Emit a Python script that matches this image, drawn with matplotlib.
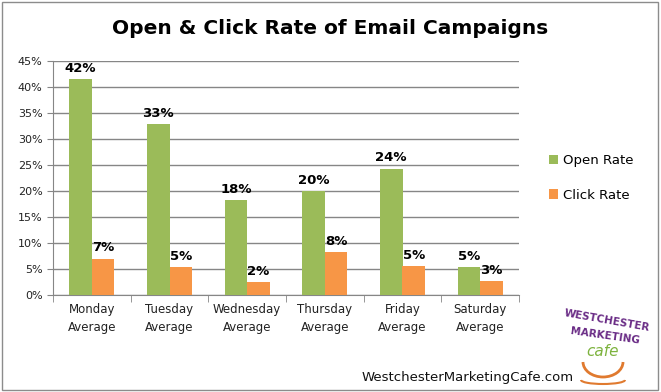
import numpy as np
import matplotlib.pyplot as plt
from matplotlib.patches import Rectangle, Arc

days = ['Monday\nAverage', 'Tuesday\nAverage', 'Wednesday\nAverage',
        'Thursday\nAverage', 'Friday\nAverage', 'Saturday\nAverage']
open_rate = [41.6, 32.8, 18.2, 20.0, 24.3, 5.3]
click_rate = [7.0, 5.3, 2.5, 8.2, 5.5, 2.6]
open_labels = ['42%', '33%', '18%', '20%', '24%', '5%']
click_labels = ['7%', '5%', '2%', '8%', '5%', '3%']

green = '#9BBB59'
orange = '#F79646'
grid_col = '#868686'

fig = plt.figure(figsize=(6.61, 3.92), dpi=100)
ax = fig.add_axes([53/661, 1 - 295/392, (519 - 53)/661, (295 - 61)/392])

x = np.arange(len(days))
w = 0.29
b1 = ax.bar(x - w/2, open_rate, w, color=green, label='Open Rate', zorder=3)
b2 = ax.bar(x + w/2, click_rate, w, color=orange, label='Click Rate', zorder=3)

for bars, labels in ((b1, open_labels), (b2, click_labels)):
    for rect, lab in zip(bars, labels):
        ax.annotate(lab, (rect.get_x() + rect.get_width()/2, rect.get_height()),
                    xytext=(0, 3), textcoords='offset points', ha='center',
                    va='bottom', fontsize=9.5, fontweight='bold', zorder=4)

ax.set_xlim(-0.5, len(days) - 0.5)
ax.set_ylim(0, 45)
ax.set_yticks(np.arange(0, 46, 5))
ax.set_yticklabels([f'{v}%' for v in range(0, 46, 5)], fontsize=8, color='#222222')
ax.yaxis.grid(True, color=grid_col, linewidth=1, zorder=0)

# category labels, with tick marks between groups
ax.set_xticks(x)
ax.set_xticklabels(days, fontsize=8.5, color='#222222', linespacing=1.5)
ax.tick_params(axis='x', length=0, pad=6)
ax.set_xticks(np.arange(-0.5, len(days)), minor=True)
ax.tick_params(axis='x', which='minor', length=5, color=grid_col, direction='out')
ax.tick_params(axis='y', length=4, color=grid_col, direction='out')

for s in ['top', 'right']:
    ax.spines[s].set_visible(False)
ax.spines['left'].set_color(grid_col)
ax.spines['bottom'].set_color(grid_col)

fig.legend(handles=[b1, b2], labels=['Open Rate', 'Click Rate'],
           loc='center left', bbox_to_anchor=(537/661, 1 - 178/392),
           frameon=False, fontsize=9.5, handlelength=0.7, handleheight=0.7,
           labelspacing=1.6, handletextpad=0.4)

fig.text(330/661, 1 - 28/392, 'Open & Click Rate of Email Campaigns',
         ha='center', va='center', fontsize=14.5, fontweight='bold')

fig.text(468/661, 1 - 377/392, 'WestchesterMarketingCafe.com',
         ha='center', va='center', fontsize=9.5, color='#111111')

# logo, roughly
purple = '#6A2C86'
fig.text(607/661, 1 - 321/392, 'WESTCHESTER', ha='center', va='center',
         fontsize=7.5, fontweight='bold', color=purple, rotation=-10)
fig.text(605/661, 1 - 336/392, 'MARKETING', ha='center', va='center',
         fontsize=7.5, fontweight='bold', color=purple, rotation=-8)
fig.text(603/661, 1 - 351/392, 'cafe', ha='center', va='center',
         fontsize=11, fontstyle='italic', color='#7DB33E')
fig.patches.append(Arc((603/661, 1 - 362/392), 40/661, 30/392, theta1=180, theta2=360,
                       transform=fig.transFigure, color='#E07A2F', lw=2))
fig.patches.append(Arc((603/661, 1 - 380/392), 44/661, 8/392, theta1=180, theta2=360,
                       transform=fig.transFigure, color='#E07A2F', lw=1.5))

fig.patches.append(Rectangle((2/661, 2/392), 656/661, 388/392, transform=fig.transFigure,
                             fill=False, edgecolor='#8C8C8C', lw=1))

fig.savefig('out.png', dpi=100)
